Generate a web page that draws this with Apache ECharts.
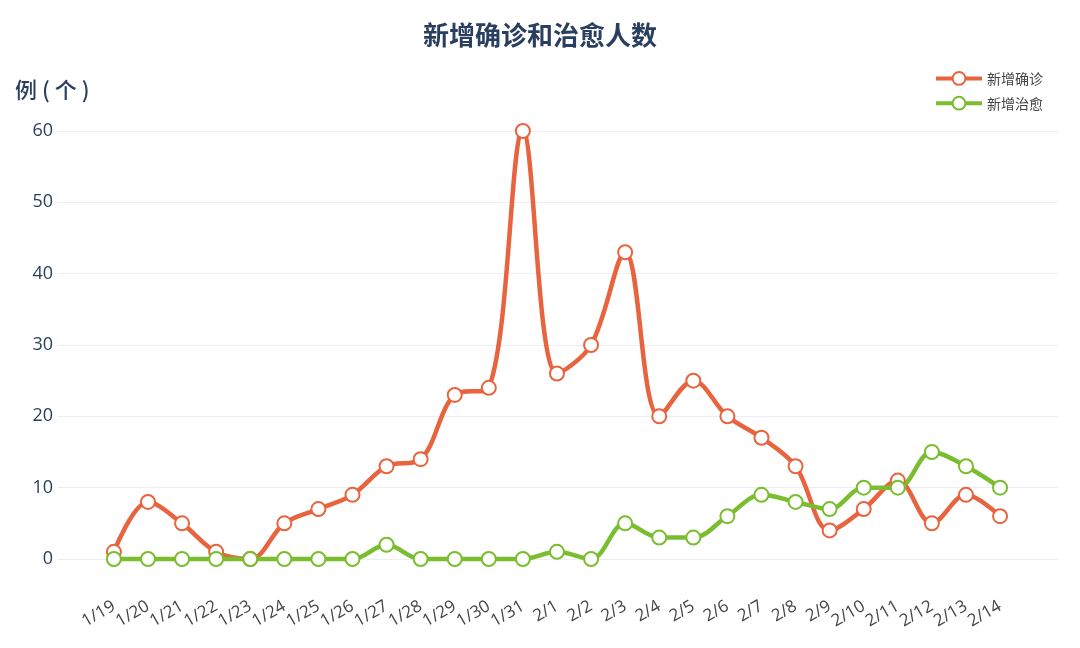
<!DOCTYPE html>
<html>
<head>
<meta charset="utf-8">
<script src="https://cdn.jsdelivr.net/npm/echarts@6/dist/echarts.min.js"></script>
<style>
  html, body { margin: 0; padding: 0; background: #fff; }
  #chart { width: 1080px; height: 648px; }
</style>
</head>
<body>
<div id="chart"></div>
<script>
  // 日期
  const dates = ['1/19', '1/20', '1/21', '1/22', '1/23', '1/24', '1/25', '1/26', '1/27',
    '1/28', '1/29', '1/30', '1/31', '2/1', '2/2', '2/3', '2/4', '2/5', '2/6', '2/7',
    '2/8', '2/9', '2/10', '2/11', '2/12', '2/13', '2/14']
  // 新增确诊
  const confirmed = [1, 8, 5, 1, 0, 5, 7, 9, 13, 14, 23, 24, 60, 26, 30, 43, 20, 25, 20,
    17, 13, 4, 7, 11, 5, 9, 6]
  // 新增治愈
  const cured = [0, 0, 0, 0, 0, 0, 0, 0, 2, 0, 0, 0, 0, 1, 0, 5, 3, 3, 6, 9, 8, 7, 10,
    10, 15, 13, 10]
  const yTicks = [0, 10, 20, 30, 40, 50, 60]

  const fontCn = '"Noto Sans CJK SC", "Open Sans", sans-serif'
  const orange = '#e8643e'
  const green = '#7abd2f'

  let chart = echarts.init(document.getElementById('chart'))

  const lineSeries = (name, data, color) => ({
    name: name,
    type: 'line',
    data: data.map((v, i) => [i, v]),
    smooth: 0.35,
    clip: false,
    symbol: 'emptyCircle',
    symbolSize: 14,
    lineStyle: { color: color, width: 4.5 },
    itemStyle: { color: color, borderColor: color, borderWidth: 3 },
  })

  chart.setOption({
    backgroundColor: '#fff',
    animation: false,
    title: [
      {
        text: '新增确诊和治愈人数',
        left: 'center',
        top: 17,
        textStyle: { fontFamily: fontCn, fontSize: 26, fontWeight: 'bold', color: '#2a3f5f' },
      },
      {
        text: '例 ( 个 )',
        left: 10,
        top: 74,
        textStyle: { fontFamily: fontCn, fontSize: 22, fontWeight: 500, color: '#2a3f5f' },
      },
    ],
    legend: {
      orient: 'vertical',
      left: 929,
      top: 66,
      itemWidth: 46,
      itemHeight: 16,
      itemGap: 10,
      lineStyle: { width: 4 },
      itemStyle: { borderWidth: 3 },
      textStyle: { fontFamily: fontCn, fontSize: 14, color: '#444' },
      data: ['新增确诊', '新增治愈'],
    },
    grid: { left: 58, right: 22, top: 131, bottom: 89 },
    xAxis: {
      type: 'value',
      min: -1.64,
      max: 27.7,
      axisLine: { show: false },
      axisTick: { show: false },
      splitLine: { show: false },
      axisLabel: {
        customValues: dates.map((d, i) => i),
        formatter: (v) => dates[Math.round(v)] || '',
        rotate: 30,
        margin: 46,
        fontFamily: '"Open Sans", sans-serif',
        fontSize: 17,
        color: '#444',
      },
    },
    yAxis: {
      type: 'value',
      min: yTicks[0],
      max: yTicks[yTicks.length - 1],
      interval: 10,
      axisLine: { show: false },
      axisTick: { show: false },
      splitLine: { lineStyle: { color: '#ebeef2', width: 1 } },
      axisLabel: {
        margin: 5,
        fontFamily: '"Open Sans", sans-serif',
        fontSize: 18,
        color: '#2a3f5f',
      },
    },
    series: [
      lineSeries('新增确诊', confirmed, orange),
      lineSeries('新增治愈', cured, green),
    ],
  })
</script>
</body>
</html>
